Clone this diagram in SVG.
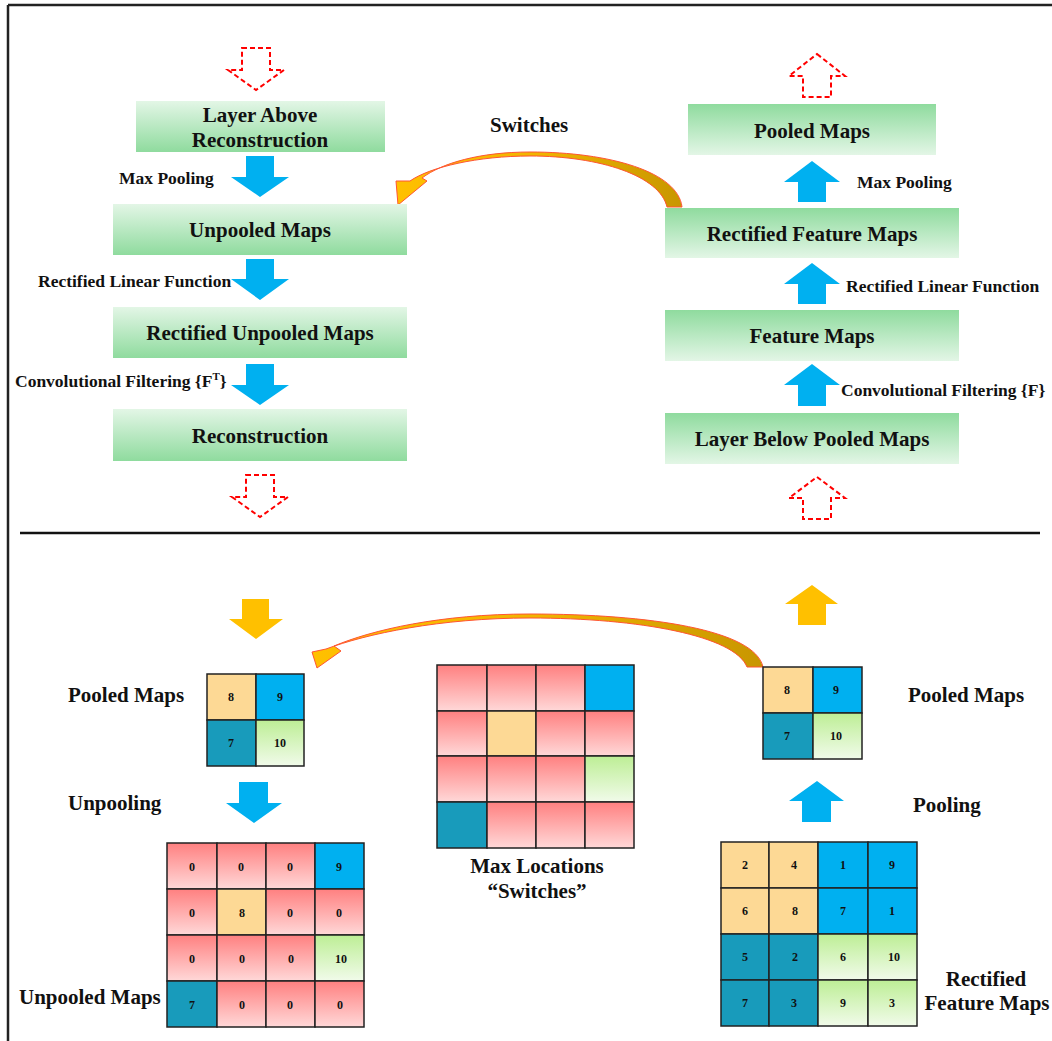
<svg xmlns="http://www.w3.org/2000/svg" width="1052" height="1041" viewBox="0 0 1052 1041">
<defs>
<linearGradient id="gUp" x1="0" y1="0" x2="0" y2="1"><stop offset="0" stop-color="#e3f6e6"/><stop offset="1" stop-color="#8fdb9e"/></linearGradient>
<linearGradient id="gDown" x1="0" y1="0" x2="0" y2="1"><stop offset="0" stop-color="#8fdb9e"/><stop offset="1" stop-color="#e3f6e6"/></linearGradient>
<linearGradient id="pink" x1="0" y1="0" x2="0" y2="1"><stop offset="0" stop-color="#ff8080"/><stop offset="1" stop-color="#ffd8d8"/></linearGradient>
<linearGradient id="lgreen" x1="0" y1="0" x2="0" y2="1"><stop offset="0" stop-color="#bdee95"/><stop offset="1" stop-color="#f1fbea"/></linearGradient>
<linearGradient id="curve" x1="0" y1="0" x2="1" y2="0"><stop offset="0" stop-color="#ffc000"/><stop offset="0.5" stop-color="#f0b400"/><stop offset="1" stop-color="#c89600"/></linearGradient>
</defs>
<style>
text{font-family:"Liberation Serif","Times New Roman",serif;font-weight:bold;fill:#111}
.big{font-size:21px}
.lbl{font-size:17.5px}
.num{font-size:12px;text-anchor:middle}
.c{text-anchor:middle}
.blue{fill:#00b0f0}
.yel{fill:#ffc000}
.dash{fill:none;stroke:#ff0000;stroke-width:2;stroke-dasharray:5,3}
.cell{stroke:#222;stroke-width:1.5}
.pk{fill:url(#pink)}
.pe{fill:#fdd995}
.bl{fill:#00b0f0}
.te{fill:#189bbb}
.lg{fill:url(#lgreen)}
.frame{stroke:#222;stroke-width:2.5;fill:none}
.curved{fill:url(#curve);stroke:#ff5533;stroke-width:1}
</style>

<g id="frame">
<line class="frame" x1="8" y1="5" x2="1052" y2="5"/>
<line class="frame" x1="8" y1="5" x2="8" y2="1041"/>
<line x1="20" y1="533" x2="1040" y2="533" stroke="#111" stroke-width="2.5"/>
</g>

<g id="connectors">
<polygon class="dash" points="242,48 270,48 270,70 284,70 256,90 228,70 242,70"/>
<polygon class="dash" points="246,475 274,475 274,497 288,497 260,517 232,497 246,497"/>
<polygon class="dash" points="817,54 845,76 831,76 831,97 803,97 803,76 789,76"/>
<polygon class="dash" points="817,477 845,498 831,498 831,519 803,519 803,498 789,498"/>
<polygon class="blue" points="246,156 274,156 274,177 289,177 260,197 231,177 246,177"/>
<polygon class="blue" points="246,259 274,259 274,279 289,279 260,300 231,279 246,279"/>
<polygon class="blue" points="246,364 274,364 274,385 289,385 260,405 231,385 246,385"/>
<polygon class="blue" points="812,161 840,182 826,182 826,202 798,202 798,182 784,182"/>
<polygon class="blue" points="812,263 840,284 826,284 826,304 798,304 798,284 784,284"/>
<polygon class="blue" points="812,364 840,385 826,385 826,406 798,406 798,385 784,385"/>
<polygon class="yel" points="242,599 269,599 269,619 283,619 256,639 229,619 242,619"/>
<polygon class="yel" points="812,585 838,604 826,604 826,625 798,625 798,604 785,604"/>
<polygon class="blue" points="239,782 268,782 268,803 282,803 254,823 226,803 239,803"/>
<polygon class="blue" points="817,781 844,801 831,801 831,822 802,822 802,801 789,801"/>
<path id="switch-top" class="curved" d="M 682,207 C 678,172 610,152 530,152 C 480,152 442,163 422,178 L 427,181 L 398,205 L 396,181 L 410,181 C 430,167 478,156 530,156 C 600,156 660,176 667,207 Z"/>
<path id="switch-bottom" class="curved" d="M 763,667 C 755,630 650,614 530,614 C 440,614 372,630 334,646 L 341,651 L 317,668 L 312,652 L 326,649 C 366,634 440,618 530,618 C 640,618 735,636 747,667 Z"/>
</g>

<g id="labels">
<text class="lbl" x="119" y="184">Max Pooling</text>
<text class="lbl" x="38" y="287">Rectified Linear Function</text>
<text class="lbl" x="15" y="387">Convolutional Filtering {F<tspan font-size="11" dy="-7">T</tspan><tspan dy="7">}</tspan></text>
<text class="lbl" x="857" y="188">Max Pooling</text>
<text class="lbl" x="846" y="292">Rectified Linear Function</text>
<text class="lbl" x="841" y="396">Convolutional Filtering {F}</text>
<text class="big" x="490" y="132">Switches</text>
<text class="big" x="68" y="702">Pooled Maps</text>
<text class="big" x="68" y="810">Unpooling</text>
<text class="big" x="19" y="1004">Unpooled Maps</text>
<text class="big" x="908" y="702">Pooled Maps</text>
<text class="big" x="913" y="812">Pooling</text>
<text class="big c" x="537" y="873">Max Locations</text>
<text class="big c" x="537" y="898">“Switches”</text>
<text class="big c" x="986" y="986">Rectified</text>
<text class="big c" x="987" y="1010">Feature Maps</text>
</g>

<g id="box-layer-above">
<rect x="136" y="101" width="249" height="51" fill="url(#gUp)"/>
<text class="big c" x="260" y="122">Layer Above</text>
<text class="big c" x="260" y="147">Reconstruction</text>
</g>
<g id="box-unpooled">
<rect x="113" y="204" width="294" height="51" fill="url(#gUp)"/>
<text class="big c" x="260" y="237">Unpooled Maps</text>
</g>
<g id="box-rect-unpooled">
<rect x="113" y="307" width="294" height="51" fill="url(#gUp)"/>
<text class="big c" x="260" y="340">Rectified Unpooled Maps</text>
</g>
<g id="box-reconstruction">
<rect x="113" y="409" width="294" height="52" fill="url(#gUp)"/>
<text class="big c" x="260" y="443">Reconstruction</text>
</g>
<g id="box-pooled">
<rect x="688" y="104" width="248" height="51" fill="url(#gDown)"/>
<text class="big c" x="812" y="138">Pooled Maps</text>
</g>
<g id="box-rect-feature">
<rect x="665" y="208" width="294" height="50" fill="url(#gDown)"/>
<text class="big c" x="812" y="241">Rectified Feature Maps</text>
</g>
<g id="box-feature">
<rect x="665" y="310" width="294" height="51" fill="url(#gDown)"/>
<text class="big c" x="812" y="343">Feature Maps</text>
</g>
<g id="box-layer-below">
<rect x="665" y="413" width="294" height="51" fill="url(#gDown)"/>
<text class="big c" x="812" y="446">Layer Below Pooled Maps</text>
</g>

<g id="grid-pooled-left">
<rect class="cell pe" x="207" y="674" width="49" height="46"/>
<rect class="cell bl" x="256" y="674" width="48" height="46"/>
<rect class="cell te" x="207" y="720" width="49" height="46"/>
<rect class="cell lg" x="256" y="720" width="48" height="46"/>
<text class="num" x="231" y="701">8</text>
<text class="num" x="280" y="701">9</text>
<text class="num" x="231" y="747">7</text>
<text class="num" x="280" y="747">10</text>
</g>

<g id="grid-unpooled">
<rect class="cell pk" x="167" y="843" width="50" height="46"/>
<rect class="cell pk" x="217" y="843" width="49" height="46"/>
<rect class="cell pk" x="266" y="843" width="49" height="46"/>
<rect class="cell bl" x="315" y="843" width="49" height="46"/>
<rect class="cell pk" x="167" y="889" width="50" height="46"/>
<rect class="cell pe" x="217" y="889" width="49" height="46"/>
<rect class="cell pk" x="266" y="889" width="49" height="46"/>
<rect class="cell pk" x="315" y="889" width="49" height="46"/>
<rect class="cell pk" x="167" y="935" width="50" height="46"/>
<rect class="cell pk" x="217" y="935" width="49" height="46"/>
<rect class="cell pk" x="266" y="935" width="49" height="46"/>
<rect class="cell lg" x="315" y="935" width="49" height="46"/>
<rect class="cell te" x="167" y="981" width="50" height="46"/>
<rect class="cell pk" x="217" y="981" width="49" height="46"/>
<rect class="cell pk" x="266" y="981" width="49" height="46"/>
<rect class="cell pk" x="315" y="981" width="49" height="46"/>
<text class="num" x="192" y="871">0</text><text class="num" x="241" y="871">0</text><text class="num" x="290" y="871">0</text><text class="num" x="339" y="871">9</text>
<text class="num" x="192" y="917">0</text><text class="num" x="242" y="917">8</text><text class="num" x="290" y="917">0</text><text class="num" x="339" y="917">0</text>
<text class="num" x="192" y="963">0</text><text class="num" x="242" y="963">0</text><text class="num" x="291" y="963">0</text><text class="num" x="341" y="963">10</text>
<text class="num" x="192" y="1009">7</text><text class="num" x="242" y="1009">0</text><text class="num" x="290" y="1009">0</text><text class="num" x="340" y="1009">0</text>
</g>

<g id="grid-switches">
<rect class="cell pk" x="437" y="665" width="50" height="46"/>
<rect class="cell pk" x="487" y="665" width="49" height="46"/>
<rect class="cell pk" x="536" y="665" width="49" height="46"/>
<rect class="cell bl" x="585" y="665" width="49" height="46"/>
<rect class="cell pk" x="437" y="711" width="50" height="45"/>
<rect class="cell pe" x="487" y="711" width="49" height="45"/>
<rect class="cell pk" x="536" y="711" width="49" height="45"/>
<rect class="cell pk" x="585" y="711" width="49" height="45"/>
<rect class="cell pk" x="437" y="756" width="50" height="46"/>
<rect class="cell pk" x="487" y="756" width="49" height="46"/>
<rect class="cell pk" x="536" y="756" width="49" height="46"/>
<rect class="cell lg" x="585" y="756" width="49" height="46"/>
<rect class="cell te" x="437" y="802" width="50" height="46"/>
<rect class="cell pk" x="487" y="802" width="49" height="46"/>
<rect class="cell pk" x="536" y="802" width="49" height="46"/>
<rect class="cell pk" x="585" y="802" width="49" height="46"/>
</g>

<g id="grid-pooled-right">
<rect class="cell pe" x="763" y="667" width="50" height="46"/>
<rect class="cell bl" x="813" y="667" width="49" height="46"/>
<rect class="cell te" x="763" y="713" width="50" height="46"/>
<rect class="cell lg" x="813" y="713" width="49" height="46"/>
<text class="num" x="787" y="694">8</text>
<text class="num" x="836" y="694">9</text>
<text class="num" x="787" y="740">7</text>
<text class="num" x="836" y="740">10</text>
</g>

<g id="grid-rectified">
<rect class="cell pe" x="721" y="842" width="48" height="46"/>
<rect class="cell pe" x="769" y="842" width="49" height="46"/>
<rect class="cell bl" x="818" y="842" width="50" height="46"/>
<rect class="cell bl" x="868" y="842" width="49" height="46"/>
<rect class="cell pe" x="721" y="888" width="48" height="46"/>
<rect class="cell pe" x="769" y="888" width="49" height="46"/>
<rect class="cell bl" x="818" y="888" width="50" height="46"/>
<rect class="cell bl" x="868" y="888" width="49" height="46"/>
<rect class="cell te" x="721" y="934" width="48" height="46"/>
<rect class="cell te" x="769" y="934" width="49" height="46"/>
<rect class="cell lg" x="818" y="934" width="50" height="46"/>
<rect class="cell lg" x="868" y="934" width="49" height="46"/>
<rect class="cell te" x="721" y="980" width="48" height="46"/>
<rect class="cell te" x="769" y="980" width="49" height="46"/>
<rect class="cell lg" x="818" y="980" width="50" height="46"/>
<rect class="cell lg" x="868" y="980" width="49" height="46"/>
<text class="num" x="745" y="869">2</text><text class="num" x="794" y="869">4</text><text class="num" x="843" y="869">1</text><text class="num" x="892" y="869">9</text>
<text class="num" x="745" y="915">6</text><text class="num" x="795" y="915">8</text><text class="num" x="843" y="915">7</text><text class="num" x="892" y="915">1</text>
<text class="num" x="745" y="961">5</text><text class="num" x="795" y="961">2</text><text class="num" x="843" y="961">6</text><text class="num" x="894" y="961">10</text>
<text class="num" x="745" y="1007">7</text><text class="num" x="794" y="1007">3</text><text class="num" x="843" y="1007">9</text><text class="num" x="892" y="1007">3</text>
</g>
</svg>
